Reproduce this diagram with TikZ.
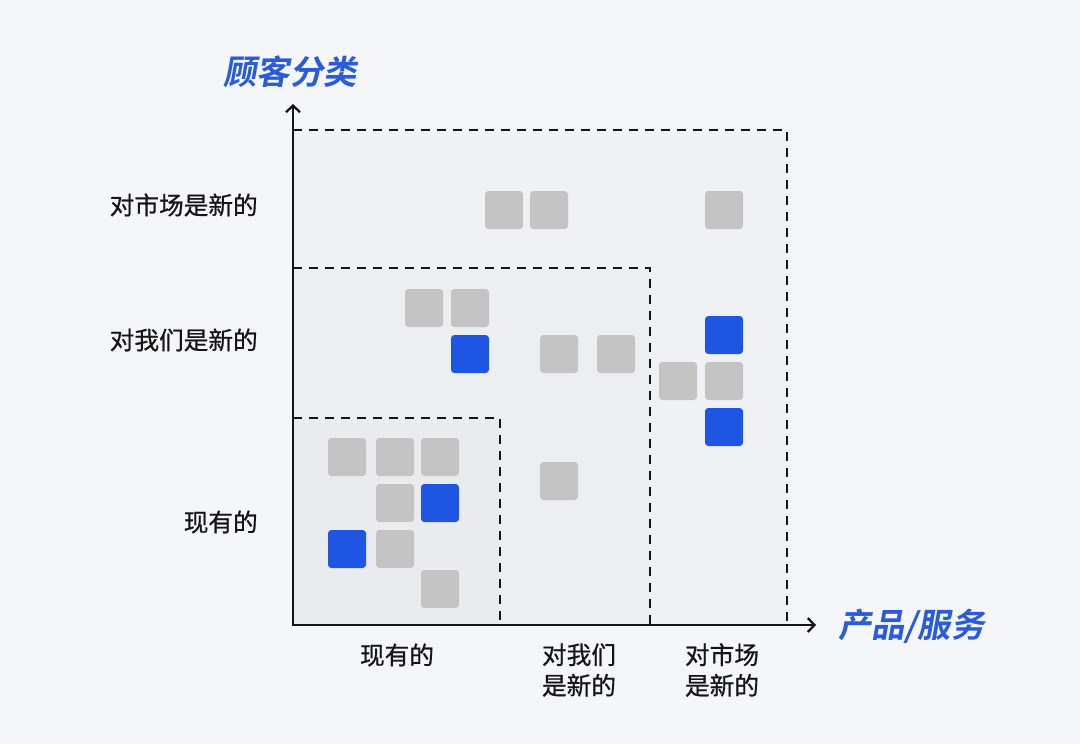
\documentclass[tikz,border=0pt]{standalone}
\usepackage{fontspec}
\setmainfont{Noto Sans CJK SC}
\newfontfamily\labelfont[FakeBold=0.7]{Noto Sans CJK SC}
\newfontfamily\titlefont[FakeSlant=0.18, BoldFont={* Bold}]{Noto Sans CJK SC}
\usepackage{xcolor}
\definecolor{pageBg}{HTML}{F4F6F9}
\definecolor{zoneOuter}{HTML}{EFF1F4}
\definecolor{zoneMid}{HTML}{ECEEF1}
\definecolor{zoneInner}{HTML}{E9EBEE}
\definecolor{noteGray}{HTML}{C4C4C4}
\definecolor{noteBlue}{HTML}{1F55E3}
\definecolor{titleBlue}{HTML}{2B5CD8}
\definecolor{inkBlack}{HTML}{151515}
\usepackage{tikz}
\usetikzlibrary{arrows.meta, calc}

\tikzset{
  note/.style={minimum size=28.5pt, inner sep=0pt, rounded corners=2.5pt},
  grayNote/.style={note, fill=noteGray},
  blueNote/.style={note, fill=noteBlue},
  zoneLine/.style={line width=1.8pt, inkBlack, line cap=butt, dash pattern=on 7pt off 5pt},
  axisLine/.style={line width=1.7pt, inkBlack, -{Straight Barb[length=5pt, width=10.5pt]}},
  axisLabel/.style={font=\labelfont\fontsize{18.5pt}{23pt}\selectfont, text=inkBlack, inner sep=0pt, align=center},
  axisTitle/.style={font=\titlefont\bfseries\fontsize{25pt}{30pt}\selectfont, text=titleBlue, inner sep=0pt}
}

\begin{document}
\begin{tikzpicture}[x=0.75pt, y=-0.75pt, style={line cap = round}]

  \fill[pageBg] (0,0) rectangle (1080,744);
  \useasboundingbox (0,0) rectangle (1080,744);

  \coordinate (O) at (293,625);
  \coordinate (ytip) at (293,104);
  \coordinate (xtip) at (816,625);

  % zones: new to market / new to us / existing
  \fill[zoneOuter] (O) rectangle (787,130);
  \fill[zoneMid] (O) rectangle (650,268);
  \fill[zoneInner] (O) rectangle (500,418);
  \draw[zoneLine] (293,130) -| (787,625);
  \draw[zoneLine] (293,268) -| (650,625);
  \draw[zoneLine] (293,418) -| (500,625);

  \foreach \pos [count=\i] in {(504,210), (549,210), (724,210), (424,308), (470,308), (559,354), (616,354), (678,381), (724,381), (347,457), (395,457), (440,457), (395,503), (395,549), (440,589), (559,481)}
    \node[grayNote] (g\i) at \pos {};
  \foreach \pos [count=\i] in {(470,354), (724,335), (724,427), (440,503), (347,549)}
    \node[blueNote] (b\i) at \pos {};

  \draw[axisLine] (O) -- (ytip);
  \draw[axisLine] (O) -- (xtip);

  \node[axisTitle] (ytitle) at (290,72) {顾客分类};
  \node[axisTitle, anchor=west] (xtitle) at (838,626) {产品/服务};

  \node[axisLabel, anchor=east] (yl1) at (258,205) {对市场是新的};
  \node[axisLabel, anchor=east] (yl2) at (258,340) {对我们是新的};
  \node[axisLabel, anchor=east] (yl3) at (258,522) {现有的};

  \node[axisLabel] (xl1) at (397,655) {现有的};
  \node[axisLabel] (xl2) at (579,670) {对我们\\是新的};
  \node[axisLabel] (xl3) at (722,670) {对市场\\是新的};

\end{tikzpicture}
\end{document}
